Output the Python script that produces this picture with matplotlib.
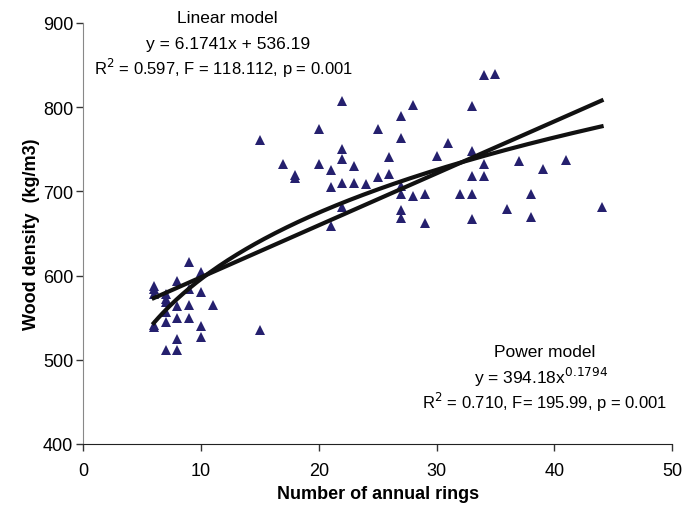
import matplotlib.pyplot as plt
import numpy as np

# annual ring counts and wood density (kg/m3) per sample
rings = [6, 6, 6, 6, 6,
         7, 7, 7, 7, 7, 7,
         8, 8, 8, 8, 8,
         9, 9, 9, 9,
         10, 10, 10, 10,
         11,
         15, 15,
         17,
         18, 18,
         20, 20,
         21, 21, 21,
         22, 22, 22, 22, 22,
         23, 23,
         24,
         25, 25,
         26, 26,
         27, 27, 27, 27, 27, 27,
         28, 28,
         29, 29,
         30, 31, 32,
         33, 33, 33, 33, 33,
         34, 34, 34,
         35, 36, 37,
         38, 38,
         39, 41, 44]
density = [588, 584, 578, 541, 539,
           578, 572, 569, 557, 545, 512,
           594, 564, 550, 525, 512,
           616, 584, 565, 550,
           604, 581, 540, 527,
           565,
           761, 535,
           733,
           720, 716,
           774, 733,
           725, 705, 659,
           807, 750, 738, 710, 681,
           730, 710,
           709,
           774, 717,
           741, 721,
           790, 763, 706, 697, 678, 668,
           803, 694,
           697, 662,
           742, 757, 697,
           801, 748, 718, 697, 667,
           838, 733, 718,
           839, 679, 736,
           697, 670,
           726, 737, 681]

# fitted models
lin_slope, lin_icpt = 6.1741, 536.19
pow_coef, pow_exp = 394.18, 0.1794

x_ticks = [0, 10, 20, 30, 40, 50]
y_ticks = [400, 500, 600, 700, 800, 900]

fig = plt.figure(figsize=(6.86, 5.10), dpi=100)
ax = fig.add_axes([0.121, 0.1275, 0.859, 0.8255])

ax.plot(rings, density, linestyle="none", marker="^", markersize=7,
        color="#25206e", markeredgewidth=0, zorder=3)

xs = np.linspace(min(rings), max(rings), 200)
ax.plot(xs, lin_slope * xs + lin_icpt, color="#111111", lw=3, zorder=4)
ax.plot(xs, pow_coef * xs ** pow_exp, color="#111111", lw=3, zorder=4)

ax.set_xlim(0, 50)
ax.set_ylim(400, 900)
ax.set_xticks(x_ticks)
ax.set_yticks(y_ticks)

tick_font = ["Liberation Sans Narrow", "Liberation Sans", "DejaVu Sans"]
for lab in ax.get_xticklabels() + ax.get_yticklabels():
    lab.set_family(tick_font)
    lab.set_fontsize(13)
ax.tick_params(axis="both", direction="out", length=5, width=1, colors="#333333",
               labelcolor="black")
ax.tick_params(axis="x", pad=8)
ax.tick_params(axis="y", pad=2)

ax.spines["top"].set_visible(False)
ax.spines["right"].set_visible(False)
ax.spines["left"].set_color("#888888")
ax.spines["bottom"].set_color("#222222")

ax.set_xlabel("Number of annual rings", family=tick_font, fontsize=13,
              fontweight="bold", labelpad=4)
ax.set_ylabel("Wood density  (kg/m3)", family=tick_font, fontsize=13,
              fontweight="bold", labelpad=2)

note_font = ["Liberation Sans", "DejaVu Sans"]
ax.text(12.25, 907, "Linear model", ha="center", va="center",
        family=note_font, fontsize=12.5)
ax.text(12.3, 876, "y = 6.1741x + 536.19", ha="center", va="center",
        family=note_font, fontsize=12.5)
ax.text(11.9, 847, "R$^2$ = 0.597, F = 118.112, p = 0.001", ha="center",
        va="center", family=note_font, fontsize=12)

ax.text(39.2, 510, "Power model", ha="center", va="center",
        family=note_font, fontsize=12.5)
ax.text(38.9, 480, "y = 394.18x$^{0.1794}$", ha="center", va="center",
        family=note_font, fontsize=12.5)
ax.text(39.2, 450, "R$^2$ = 0.710, F= 195.99, p = 0.001", ha="center",
        va="center", family=note_font, fontsize=12)

fig.savefig("out.png", dpi=100)
